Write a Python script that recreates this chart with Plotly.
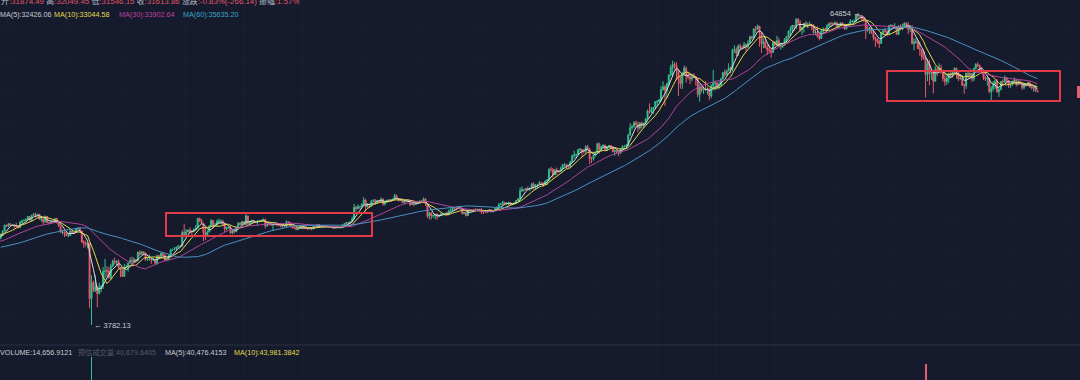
import math
import pandas as pd
import plotly.graph_objects as go

# ---------------- data (BTC/USDT daily) ----------------
start_date = "2019-11-28"
first_open = 7500

close = [
    7424, 7747, 7541,
    # 2019-12
    7391, 7293, 7308, 7227, 7398, 7546, 7505, 7518, 7338, 7225, 7202, 7189, 7252, 7070, 7110, 6883, 6612, 7282, 7153, 7187,
    7132, 7501, 7318, 7255, 7205, 7195, 7247, 7310, 7388, 7247, 7180,
    # 2020-01
    7200, 6965, 7345, 7355, 7358, 7758, 8145, 8055, 7818, 8197, 8021, 8185, 8110, 8811, 8821, 8720, 8914, 8908, 8700, 8627,
    8723, 8661, 8397, 8435, 8332, 8597, 8902, 9392, 9285, 9500, 9350,
    # 2020-02
    9384, 9332, 9289, 9180, 9613, 9755, 9803, 9903, 10152, 9851, 10269, 10349, 10238, 10364, 9904, 9934, 9690, 10142, 9622, 9592,
    9697, 9666, 9965, 9652, 9305, 8785, 8823, 8693, 8523,
    # 2020-03
    8531, 8915, 8760, 8750, 9054, 9131, 8886, 8034, 7935, 7894, 7937, 4800, 5578, 5172, 5361, 5028, 5312, 5390, 6162, 6186,
    6183, 5830, 6456, 6768, 6691, 6760, 6372, 6250, 5881, 6394, 6410,
    # 2020-04
    6642, 6794, 6734, 6856, 6772, 7329, 7197, 7361, 7283, 6858, 6876, 6903, 6838, 6869, 6627, 7097, 7047, 7258, 7122, 6829,
    6842, 7126, 7482, 7505, 7539, 7694, 7774, 7759, 8778, 8620,
    # 2020-05
    8826, 8973, 8894, 8871, 9022, 9143, 9986, 9801, 9540, 8722, 8561, 8810, 9309, 9791, 9316, 9382, 9675, 9727, 9730, 9519,
    9063, 9170, 9179, 8720, 8900, 8841, 9205, 9575, 9427, 9697, 9448,
    # 2020-06
    10203, 9522, 9666, 9789, 9622, 9667, 9757, 9771, 9785, 9879, 9321, 9480, 9475, 9386, 9454, 9538, 9456, 9379, 9294, 9348,
    9288, 9685, 9624, 9296, 9249, 9162, 9012, 9116, 9192, 9138,
    # 2020-07
    9232, 9086, 9058, 9135, 9069, 9342, 9253, 9428, 9277, 9278, 9240, 9276, 9239, 9252, 9192, 9132, 9154, 9170, 9208, 9160,
    9390, 9518, 9603, 9538, 9700, 9931, 11029, 10906, 11100, 11111, 11351,
    # 2020-08
    11801, 11071, 11219, 11191, 11744, 11762, 11594, 11761, 11681, 11892, 11392, 11564, 11780, 11760, 11852, 11911, 12281, 11945, 11754, 11866,
    11522, 11663, 11648, 11748, 11318, 11461, 11330, 11527, 11470, 11704, 11650,
    # 2020-09
    11925, 11388, 10171, 10472, 10200, 10242, 10363, 10123, 10224, 10368, 10398, 10443, 10331, 10681, 10786, 10955, 10939, 10933, 11081, 10920,
    10418, 10529, 10241, 10737, 10686, 10728, 10775, 10709, 10844, 10784,
    # 2020-10
    10619, 10570, 10542, 10666, 10792, 10599, 10668, 10925, 11050, 11296, 11384, 11555, 11426, 11430, 11503, 11322, 11358, 11483, 11743, 11916,
    12823, 12966, 12931, 13108, 13032, 13068, 13654, 13272, 13456, 13560, 13792,
    # 2020-11
    13761, 13550, 14023, 14145, 15590, 15580, 14834, 15479, 15333, 15305, 15706, 16295, 16330, 16075, 15961, 16716, 17646, 17800, 17818, 18653,
    18704, 18419, 18370, 19152, 18719, 17150, 17139, 17720, 18185, 19696,
    # 2020-12
    18765, 19205, 19422, 18650, 19147, 19359, 19166, 18324, 18541, 18254, 18036, 18809, 19175, 19273, 19426, 21335, 22797, 23107, 23822, 23455,
    22719, 23810, 23232, 23729, 24712, 26493, 26281, 27079, 27385, 28875, 28924,
    # 2021-01
    29331, 32178, 33000, 31988, 33949, 36769, 39432, 40582, 40088, 38150, 35404, 34051, 37372, 39145, 36742, 36018, 35547, 36248, 36020, 35547,
    30826, 33006, 32067, 32289, 32254, 32467, 30366, 33364, 34252, 34262, 33092,
    # 2021-02
    33526, 35466, 37618, 36936, 38290, 39186, 38795, 46375, 46420, 44807, 47969, 47287, 47153, 48577, 47911, 49133, 52119, 51552, 55906, 55841,
    57408, 54087, 48891, 49676, 47073, 46276, 46106, 45135,
    # 2021-03
    49587, 48440, 50349, 48374, 48751, 48882, 50971, 52375, 54884, 55851, 57773, 57221, 61188, 58968, 55605, 56900, 58912, 57648, 58030, 58102,
    57351, 54083, 54340, 52303, 51293, 55025, 55817, 55777, 57635, 58746, 58740,
    # 2021-04
    58720, 58950, 57051, 58202, 59129, 57991, 55950, 58077, 58142, 59769, 59860, 59982, 63612, 62938, 63202, 61572, 60683, 56216, 55724, 56473,
    53906, 51763, 51094, 50047, 49067, 54022, 55034, 54825, 53556, 57750,
    # 2021-05
    57828, 56611, 57214, 53242, 57473, 56428, 57380, 58929, 58280, 55883, 56751, 49008, 49719, 49880, 46761, 46431, 43539, 42909, 36964, 40784,
    37281, 37528, 34755, 38728, 38410, 39266, 38445, 35689, 34648, 35684, 37311,
    # 2021-06
    36662, 37585, 39188, 36856, 35520, 35796, 33552, 33380, 37389, 36693, 37313, 35551, 39020, 40516, 40144, 38349, 38092, 35820, 35484, 35601,
    31608, 32509, 33678, 34663, 31594, 32283, 34700, 34494, 35911, 35045,
    # 2021-07
    33504, 33787, 34669, 35287, 33691, 34220, 33863, 32877, 33815, 33502, 34259, 33087, 32730, 32820, 31874, 31614,
]

high = [
    7600, 7860, 7810,
    7569, 7420, 7400, 7750, 7480, 7620, 7620, 7580, 7630, 7400, 7280, 7260, 7290, 7260, 7200, 7140, 6950, 7440, 7340, 7220,
    7190, 7520, 7700, 7440, 7290, 7450, 7280, 7360, 7520, 7400, 7300,
    7250, 7215, 7400, 7400, 7500, 7800, 8210, 8460, 8060, 8200, 8280, 8200, 8200, 8880, 8900, 8840, 9000, 9000, 9200, 8750,
    8760, 8780, 8680, 8520, 8470, 8620, 8980, 9400, 9420, 9570, 9550,
    9470, 9470, 9600, 9340, 9770, 9850, 9880, 9950, 10160, 10190, 10300, 10480, 10520, 10390, 10400, 10050, 9970, 10250, 10200, 9700,
    9750, 9710, 9980, 10030, 9670, 9330, 8990, 8880, 8800,
    8750, 8920, 8950, 8850, 9160, 9170, 9190, 8890, 8180, 8150, 7980, 7970, 5950, 5660, 5940, 5365, 5560, 5440, 6400, 6900,
    6460, 6400, 6600, 6850, 6980, 6800, 6870, 6300, 6280, 6600, 6530,
    6680, 7000, 7050, 6990, 6890, 7360, 7470, 7420, 7370, 7300, 6950, 7180, 6910, 6990, 6920, 7170, 7150, 7300, 7260, 7200,
    6950, 7140, 7570, 7590, 7700, 7710, 7800, 7770, 8950, 9470,
    9060, 9000, 9190, 8950, 9100, 9400, 10000, 10050, 9920, 9580, 9160, 8960, 9400, 9920, 9840, 9580, 9880, 9950, 9890, 9840,
    9560, 9260, 9300, 9310, 9000, 9010, 9230, 9620, 9610, 9740, 9700,
    10440, 10230, 9690, 9870, 9850, 9730, 9780, 9800, 9880, 9990, 9950, 9580, 9500, 9480, 9510, 9590, 9540, 9480, 9390, 9400,
    9420, 9800, 9700, 9660, 9320, 9280, 9200, 9180, 9230, 9200,
    9300, 9270, 9125, 9190, 9150, 9380, 9360, 9470, 9440, 9310, 9290, 9340, 9345, 9280, 9260, 9200, 9190, 9190, 9240, 9220,
    9420, 9530, 9680, 9640, 9730, 10140, 11400, 11190, 11350, 11170, 11450,
    12120, 11900, 11480, 11420, 11800, 11900, 11900, 11800, 11800, 12080, 11950, 11620, 11800, 11900, 11880, 11960, 12480, 12400, 11980, 11890,
    11900, 11700, 11700, 11800, 11780, 11540, 11580, 11590, 11550, 11720, 11760,
    12080, 12000, 11470, 10600, 10580, 10350, 10400, 10440, 10350, 10490, 10420, 10480, 10590, 10800, 10930, 11100, 11050, 11040, 11180, 11090,
    10990, 10580, 10530, 10790, 10770, 10800, 10800, 10970, 10870, 10860,
    10950, 10670, 10600, 10700, 10800, 10800, 10690, 10950, 11110, 11490, 11440, 11720, 11560, 11550, 11630, 11550, 11400, 11500, 11820, 12020,
    13230, 13350, 13030, 13170, 13350, 13240, 13790, 13860, 13640, 13670, 14030,
    13890, 13820, 14070, 14250, 15750, 15950, 15760, 15650, 15840, 15470, 15960, 16340, 16480, 16330, 16150, 16800, 17850, 18480, 18000, 18750,
    18960, 18740, 18770, 19420, 19480, 18900, 17460, 17880, 18350, 19860,
    19920, 19340, 19580, 19500, 19180, 19420, 19390, 19300, 18640, 18570, 18290, 18950, 19400, 19350, 19570, 21560, 23800, 23290, 24170, 24290,
    24100, 23840, 24100, 23800, 24780, 26870, 28420, 27500, 27410, 28990, 29300,
    29600, 33300, 34780, 33600, 34360, 36940, 40360, 41950, 41380, 41350, 38250, 36630, 37850, 40100, 39750, 37950, 36850, 36850, 37450, 36420,
    35600, 33830, 33480, 32940, 34880, 32950, 32560, 33780, 38530, 34930, 34300,
    34700, 35900, 37650, 38700, 38300, 40950, 39700, 46750, 48200, 47310, 48630, 48880, 48000, 49700, 49000, 50500, 52620, 52550, 56370, 57500,
    58350, 57500, 54180, 51370, 52040, 48370, 48400, 46650,
    49790, 50130, 52640, 51770, 49440, 49200, 51450, 52390, 54900, 57380, 58150, 57990, 61680, 61600, 60600, 56930, 58980, 60100, 59450, 59880,
    58640, 58400, 55830, 57200, 53230, 55070, 56640, 56600, 58400, 59370, 59800,
    59460, 60000, 59790, 58490, 59280, 59500, 58660, 58150, 58890, 61200, 60700, 61000, 63800, 64854, 63800, 63580, 62500, 61000, 57530, 57100,
    56760, 55440, 52130, 51200, 50550, 54360, 55460, 56430, 55200, 58000,
    58460, 58000, 59000, 57180, 57970, 58360, 58650, 59500, 59300, 59600, 57940, 58000, 51400, 51560, 50700, 49800, 46400, 45840, 43550, 42500,
    42250, 38850, 38300, 39920, 39790, 40900, 40400, 38200, 37200, 36400, 37500,
    37900, 38230, 39480, 39290, 37900, 36800, 36790, 34070, 37530, 38400, 37680, 37450, 39380, 41000, 41330, 40500, 39560, 38200, 36450, 36130,
    35750, 33300, 34880, 35300, 35500, 32700, 34750, 35300, 36600, 36000,
    35050, 33940, 34950, 35960, 35290, 35100, 35060, 33920, 34100, 34000, 34600, 34680, 33330, 33100, 33190, 32049,
]

low = [
    7350, 7390, 7450,
    7300, 7150, 7240, 7080, 7180, 7380, 7450, 7430, 7280, 7150, 7140, 7100, 7180, 7040, 7020, 6850, 6430, 6560, 7040, 7100,
    7110, 7120, 7250, 7160, 7150, 7150, 7100, 7250, 7280, 7220, 7130,
    7150, 6900, 6870, 7270, 7330, 7340, 7720, 7860, 7750, 7700, 8000, 7980, 8050, 8080, 8600, 8610, 8650, 8840, 8510, 8480,
    8570, 8630, 8340, 8250, 8270, 8250, 8500, 8880, 9220, 9250, 9310,
    9310, 9130, 9240, 9110, 9160, 9530, 9710, 9720, 9870, 9730, 9710, 10210, 10080, 10200, 9830, 9690, 9460, 9580, 9550, 9450,
    9520, 9590, 9660, 9520, 9250, 8750, 8620, 8420, 8500,
    8400, 8500, 8650, 8660, 8740, 9010, 8860, 8000, 7630, 7710, 7590, 4410, 3782, 5100, 5100, 4440, 5000, 5100, 5250, 5800,
    5860, 5760, 5730, 6400, 6550, 6520, 6320, 5850, 5860, 5870, 6330,
    6150, 6620, 6620, 6700, 6650, 6770, 7080, 7150, 7130, 6780, 6780, 6790, 6600, 6770, 6600, 6560, 6970, 7040, 7060, 6780,
    6760, 6830, 7060, 7420, 7460, 7520, 7650, 7650, 7720, 8400,
    8610, 8790, 8710, 8500, 8790, 8940, 9120, 9650, 9520, 8120, 8200, 8540, 8810, 9260, 9130, 9280, 9360, 9480, 9480, 9300,
    8820, 8950, 9080, 8700, 8630, 8710, 8810, 9100, 9350, 9340, 9400,
    9420, 9270, 9400, 9530, 9580, 9580, 9370, 9640, 9690, 9720, 9100, 9260, 9360, 9370, 8900, 9370, 9260, 9280, 9200, 9190,
    9270, 9280, 9570, 9200, 9080, 9060, 8950, 8960, 9080, 9080,
    9080, 9050, 9000, 9060, 8950, 9060, 9220, 9230, 9160, 9140, 9220, 9200, 9200, 9150, 9180, 9090, 9100, 9140, 9120, 9140,
    9150, 9290, 9460, 9380, 9530, 9650, 9880, 10600, 10830, 10860, 10960,
    11220, 10600, 11030, 11000, 11100, 11530, 11290, 11530, 11560, 11470, 11200, 11220, 11500, 11620, 11670, 11710, 11800, 11840, 11650, 11700,
    11480, 11360, 11530, 11600, 11140, 11250, 11150, 11280, 11440, 11460, 11560,
    11570, 11180, 10000, 9870, 9880, 10020, 9900, 9860, 10100, 10210, 10260, 10300, 10210, 10260, 10630, 10670, 10700, 10820, 10880, 10820,
    10350, 10350, 10140, 10200, 10610, 10600, 10690, 10690, 10640, 10650,
    10380, 10380, 10500, 10520, 10630, 10530, 10540, 10660, 10820, 11000, 11280, 11240, 11290, 11280, 11260, 11210, 11250, 11340, 11400, 11670,
    11880, 12700, 12720, 12890, 12870, 12790, 13010, 12950, 12980, 13120, 13530,
    13620, 13280, 13520, 13530, 14100, 15170, 14400, 14780, 14800, 15100, 15280, 15440, 15950, 15720, 15780, 15870, 16550, 17220, 17340, 17750,
    18180, 17620, 18000, 18080, 18500, 16340, 16500, 16880, 17520, 18170,
    18000, 18330, 18850, 18570, 18500, 18880, 18900, 18200, 17650, 17910, 17570, 18000, 18700, 19000, 19050, 19280, 21230, 22320, 22750, 23080,
    21820, 22350, 22640, 22730, 23450, 24500, 25800, 26000, 25880, 27320, 27850,
    28620, 29000, 31960, 27730, 29880, 33290, 36300, 36500, 38720, 35110, 30400, 32500, 32400, 36700, 34400, 35350, 33850, 34800, 35900, 33400,
    30070, 28850, 31390, 31000, 31910, 30840, 29240, 29830, 31920, 32000, 32200,
    32300, 33420, 35380, 36160, 36570, 38000, 37350, 37990, 45000, 43730, 43720, 46130, 46300, 47000, 45570, 47000, 48950, 50900, 50760, 53860,
    55480, 47600, 45000, 47000, 47000, 44100, 45000, 43000,
    45000, 47820, 48100, 47500, 46300, 47070, 48550, 49270, 51850, 53000, 54270, 55050, 55900, 58900, 54600, 53050, 54120, 57000, 56270, 57810,
    55450, 53650, 53000, 51700, 50430, 51200, 53960, 54700, 55000, 57030, 56870,
    57930, 58400, 56900, 56500, 57400, 57420, 55470, 55800, 57670, 57700, 59260, 59400, 59860, 61000, 62000, 60000, 59580, 51000, 54200, 53400,
    53620, 50400, 47500, 48800, 47000, 48800, 53220, 53900, 52330, 53000,
    56900, 56000, 56460, 53000, 52900, 55200, 55250, 56950, 56250, 53400, 54350, 48600, 46000, 48800, 46600, 43830, 42000, 42200, 30000, 34800,
    33500, 35200, 31100, 34600, 36400, 37800, 37200, 34700, 33380, 33630, 34200,
    35700, 35920, 37170, 35600, 34800, 35250, 33400, 31000, 32400, 35800, 35950, 34600, 34780, 38750, 39500, 38120, 37370, 35130, 34800, 33340,
    31300, 28800, 31700, 32300, 31300, 30150, 31970, 33860, 34300, 34000,
    32710, 32700, 33320, 34450, 33150, 33530, 33790, 32100, 32300, 33050, 33300, 32680, 32220, 31600, 31550, 31546,
]

# daily volume, thousands of BTC
volume_k = [
    45, 40, 38,
    35, 38, 30, 60, 45, 40, 25, 22, 35, 38, 30, 32, 30, 28, 25, 45, 70, 75, 50, 40, 25, 35, 55, 40, 30, 28, 35, 30, 32, 40, 38,
    30, 45, 70, 50, 45, 60, 75, 80, 55, 60, 45, 40, 40, 90, 85, 55, 70, 50, 60, 45, 40, 35, 50, 45, 35, 40, 55, 75, 55, 60, 50,
    40, 45, 55, 55, 65, 60, 50, 40, 55, 70, 75, 75, 70, 50, 70, 55, 75, 70, 80, 60, 45, 35, 40, 55, 70, 90, 85, 75, 45,
    50, 65, 60, 50, 60, 55, 60, 100, 120, 80, 90, 242, 402, 120, 90, 150, 95, 110, 140, 150, 100, 90, 110, 110, 90, 75, 80, 60, 70, 75, 60,
    70, 90, 75, 50, 45, 90, 75, 60, 55, 80, 50, 55, 60, 55, 60, 80, 55, 55, 45, 70, 55, 55, 80, 50, 40, 45, 55, 45, 110, 130,
    85, 60, 80, 80, 75, 80, 130, 110, 75, 160, 140, 90, 100, 110, 90, 60, 70, 70, 75, 90, 110, 65, 60, 90, 75, 65, 70, 70, 60, 60, 60,
    110, 115, 60, 55, 50, 35, 50, 40, 45, 55, 80, 55, 35, 40, 65, 55, 50, 45, 45, 30, 35, 60, 50, 55, 55, 50, 45, 40, 40, 40,
    35, 40, 30, 25, 30, 40, 35, 40, 40, 35, 25, 30, 35, 30, 30, 35, 30, 25, 25, 30, 45, 50, 55, 40, 45, 70, 130, 95, 75, 70, 60,
    85, 110, 55, 50, 60, 45, 65, 40, 35, 55, 85, 65, 55, 45, 35, 35, 60, 65, 55, 40, 50, 40, 35, 40, 55, 45, 55, 40, 30, 30, 40,
    55, 75, 110, 80, 90, 40, 60, 65, 45, 50, 40, 35, 35, 55, 55, 60, 60, 45, 40, 35, 70, 45, 50, 50, 40, 30, 30, 40, 40, 40,
    50, 55, 30, 30, 35, 40, 35, 45, 45, 45, 30, 45, 40, 35, 40, 45, 25, 25, 40, 45, 90, 70, 50, 35, 40, 45, 55, 60, 45, 45, 35,
    35, 45, 50, 65, 90, 80, 75, 65, 75, 55, 55, 70, 55, 45, 40, 60, 80, 100, 70, 80, 60, 70, 75, 75, 75, 110, 80, 60, 50, 70,
    90, 55, 45, 60, 40, 35, 40, 55, 60, 55, 60, 40, 35, 40, 40, 90, 110, 65, 60, 50, 85, 60, 80, 65, 55, 75, 100, 65, 80, 75, 75,
    75, 110, 110, 150, 115, 130, 120, 125, 70, 95, 160, 120, 110, 105, 115, 75, 70, 60, 75, 80, 140, 120, 60, 50, 85, 75, 100, 110, 130, 75, 60,
    65, 65, 70, 70, 65, 70, 75, 120, 110, 95, 80, 75, 50, 55, 75, 85, 80, 70, 95, 80, 50, 160, 150, 100, 80, 110, 65, 75,
    95, 65, 80, 75, 95, 40, 40, 50, 65, 75, 75, 70, 70, 65, 85, 65, 75, 70, 55, 45, 40, 65, 55, 70, 80, 75, 40, 35, 55, 60, 60,
    60, 45, 45, 40, 65, 55, 65, 50, 45, 40, 35, 50, 75, 80, 45, 70, 60, 120, 75, 75, 85, 90, 120, 80, 75, 90, 60, 60, 55, 70,
    45, 40, 55, 80, 90, 55, 60, 50, 50, 80, 70, 140, 150, 75, 105, 90, 125, 90, 356, 190, 200, 120, 215, 135, 90, 90, 75, 110, 90, 80, 80,
    60, 55, 55, 75, 60, 45, 75, 110, 110, 80, 60, 60, 80, 75, 60, 70, 60, 65, 55, 50, 110, 160, 95, 65, 75, 55, 55, 55, 60, 65,
    60, 40, 35, 30, 55, 40, 40, 55, 40, 25, 25, 40, 45, 45, 45, 15,
]

ma_periods = [5, 10, 30, 60]

header_labels = ["开", "高", "低", "收", "涨跌", "振幅"]
header_values = ["31874.49", "32049.45", "31546.15", "31613.86", "-0.83%(-266.14)", "1.57%"]
ma_texts = ["MA(5):32426.06", "MA(10):33044.58", "MA(30):33902.64", "MA(60):35635.20"]
vol_texts = ["VOLUME:14,656.9121", "预估成交量:40,679.6405", "MA(5):40,476.4153", "MA(10):43,981.3842"]
low_label = "← 3782.13"
high_label = "64854 →"

# ---------------- checks / derived ----------------
n = len(close)
if not (len(high) == n and len(low) == n and len(volume_k) == n):
    raise ValueError(f"lengths close={len(close)} high={len(high)} low={len(low)} vol={len(volume_k)}")

dates = pd.date_range(start_date, periods=n, freq="D")
opens = [first_open] + close[:-1]
hi = [max(h, o, c) for h, o, c in zip(high, opens, close)]
lo = [min(l, o, c) for l, o, c in zip(low, opens, close)]
cs = pd.Series(close, dtype=float)
mas = {p: cs.rolling(p).mean() for p in ma_periods}

# ---------------- style ----------------
BG = "#151a2c"
UP = "#31c08c"
DN = "#e35d6c"
MA_COLORS = {5: "#dcdcdc", 10: "#e6d84a", 30: "#b0449e", 60: "#4a92c4"}
TXT_COLORS = ["#c9ccd3", "#e2dc4c", "#c040a0", "#3aa6cc"]
VOL_COLORS = ["#c9ccd3", "#555b69", "#c9ccd3", "#e2dc4c"]
FONT = "Arial, 'Liberation Sans', 'Noto Sans CJK SC', sans-serif"
W, H = 1080, 380

fig = go.Figure()
fig.add_trace(go.Candlestick(
    x=dates, open=opens, high=hi, low=lo, close=close,
    increasing=dict(line=dict(color=UP, width=1), fillcolor=UP),
    decreasing=dict(line=dict(color=DN, width=1), fillcolor=DN),
    whiskerwidth=0, hoverinfo="skip", showlegend=False,
    xaxis="x", yaxis="y",
))
for p in ma_periods:
    fig.add_trace(go.Scatter(
        x=dates, y=mas[p], mode="lines",
        line=dict(color=MA_COLORS[p], width=1),
        hoverinfo="skip", showlegend=False, xaxis="x", yaxis="y",
    ))
vol_colors = [UP if c >= o else DN for o, c in zip(opens, close)]
fig.add_trace(go.Bar(
    x=dates, y=volume_k, marker=dict(color=vol_colors, line=dict(width=0)),
    width=0.95 * 86400000, hoverinfo="skip", showlegend=False,
    xaxis="x", yaxis="y2",
))

def px(x):
    return x / W

def py(y):
    return 1 - y / H

shapes = []
# faint grid
for k in range(19):
    xg = 8 + 59 * k
    shapes.append(dict(type="line", xref="paper", yref="paper", x0=px(xg), x1=px(xg), y0=0, y1=1,
                       line=dict(color="rgba(255,255,255,0.022)", width=1), layer="below"))
for k in range(10):
    yg = 27.5 + 32.4 * k
    shapes.append(dict(type="line", xref="paper", yref="paper", x0=0, x1=1, y0=py(yg), y1=py(yg),
                       line=dict(color="rgba(255,255,255,0.022)", width=1), layer="below"))
# panel separator
shapes.append(dict(type="line", xref="paper", yref="paper", x0=0, x1=1, y0=py(345), y1=py(345),
                   line=dict(color="#2a3040", width=1)))
# highlight boxes
for (x0, y0, x1, y1) in [(166, 213, 372, 236), (887, 71, 1060, 101)]:
    shapes.append(dict(type="rect", xref="paper", yref="paper", x0=px(x0), x1=px(x1), y0=py(y1), y1=py(y0),
                       line=dict(color="#e03a46", width=2), fillcolor="rgba(0,0,0,0)"))
# cut-off last-price tag on the right edge
shapes.append(dict(type="rect", xref="paper", yref="paper", x0=px(1077), x1=px(1084), y0=py(98), y1=py(86),
                   line=dict(width=0), fillcolor=DN))

annotations = []
# header line 1 (partly cut at top, as in the source screenshot)
parts = []
for lab, val in zip(header_labels, header_values):
    parts.append(f"<span style='color:#b8bcc6'>{lab}</span><span style='color:#e0566a'>:{val}</span>")
annotations.append(dict(text=" ".join(parts), xref="paper", yref="paper", x=0, y=py(1.5),
                        xanchor="left", yanchor="middle", showarrow=False,
                        font=dict(family=FONT, size=7.9), borderpad=0))
# MA line
for t, xp, col in zip(ma_texts, [-1, 53, 118, 182], TXT_COLORS):
    annotations.append(dict(text=t, xref="paper", yref="paper", x=px(xp), y=py(14.5),
                            xanchor="left", yanchor="middle", showarrow=False,
                            font=dict(family=FONT, size=7.2, color=col), borderpad=0))
# volume line
for t, xp, col in zip(vol_texts, [-1, 77, 164, 233], VOL_COLORS):
    annotations.append(dict(text=t, xref="paper", yref="paper", x=px(xp), y=py(352),
                            xanchor="left", yanchor="middle", showarrow=False,
                            font=dict(family=FONT, size=7.2, color=col), borderpad=0))
# extreme markers
i_lo = min(range(n), key=lambda i: lo[i])
i_hi = max(range(n), key=lambda i: hi[i])
annotations.append(dict(text=low_label, x=dates[i_lo], y=math.log10(lo[i_lo]), xref="x", yref="y",
                        xanchor="left", yanchor="middle", xshift=1, yshift=-1, showarrow=False,
                        font=dict(family=FONT, size=7.5, color="#c9ccd3"), borderpad=0))
annotations.append(dict(text=high_label, x=dates[i_hi], y=math.log10(hi[i_hi]), xref="x", yref="y",
                        xanchor="right", yanchor="middle", xshift=3, yshift=-1, showarrow=False,
                        font=dict(family=FONT, size=7.5, color="#c9ccd3"), borderpad=0))

fig.update_layout(
    width=W, height=H,
    margin=dict(l=0, r=0, t=0, b=0, pad=0),
    paper_bgcolor=BG, plot_bgcolor=BG,
    showlegend=False, hovermode=False,
    xaxis=dict(type="date", range=["2020-01-25 14:37", "2021-08-06 23:30"], visible=False,
               rangeslider=dict(visible=False), fixedrange=True),
    yaxis=dict(type="log", range=[3.4986, 4.8623], domain=[py(345), 1], visible=False, fixedrange=True),
    yaxis2=dict(range=[250, 481], domain=[0, py(345)], visible=False, fixedrange=True),
    shapes=shapes, annotations=annotations,
    bargap=0,
)

fig.write_html(
    "out.html",
    config={"displayModeBar": False, "staticPlot": True},
    post_script="document.body.style.margin='0';document.body.style.overflow='hidden';"
                "document.body.style.background='" + BG + "';",
)
